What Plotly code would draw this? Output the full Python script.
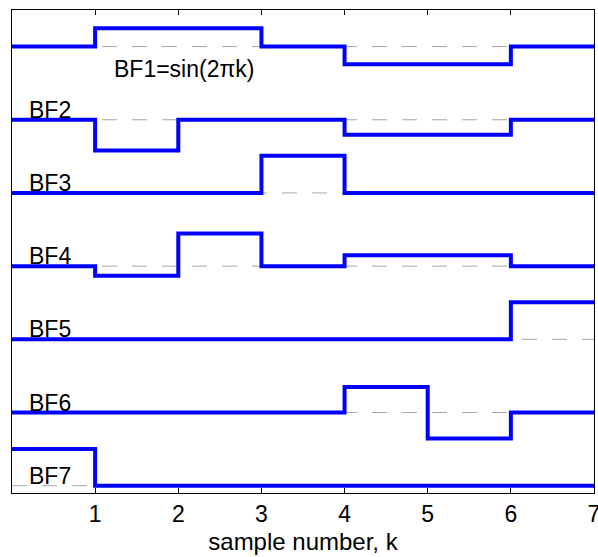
import plotly.graph_objects as go

# sample index k (each sample is held until the next one)
samples = [0, 1, 2, 3, 4, 5, 6]
x_end = 7

# basis-function amplitudes per sample, in units of the row spacing
bf1 = [0.0, 0.25, 0.25, 0.0, -0.24, -0.24, 0.0]
bf2 = [0.0, -0.42, 0.0, 0.0, -0.205, -0.205, 0.0]
bf3 = [0.0, 0.0, 0.0, 0.51, 0.0, 0.0, 0.0]
bf4 = [0.0, -0.13, 0.445, 0.0, 0.15, 0.15, 0.0]
bf5 = [0.0, 0.0, 0.0, 0.0, 0.0, 0.0, 0.505]
bf6 = [0.0, 0.0, 0.0, 0.0, 0.35, -0.355, 0.0]
bf7 = [0.5, 0.0, 0.0, 0.0, 0.0, 0.0, 0.0]

series = [bf1, bf2, bf3, bf4, bf5, bf6, bf7]
labels = ["BF1=sin(2πk)", "BF2", "BF3", "BF4", "BF5", "BF6", "BF7"]
offsets = [6, 5, 4, 3, 2, 1, 0]

tick_vals = [1, 2, 3, 4, 5, 6, 7]
tick_text = ["1", "2", "3", "4", "5", "6", "7"]

FONT = "Liberation Sans, Arial, Helvetica, sans-serif"
BLUE = "#0000ff"
GREY = "#a6a6a6"

fig = go.Figure()

# dashed zero reference for every row
for off in offsets:
    fig.add_trace(go.Scatter(
        x=[samples[0], x_end], y=[off, off], mode="lines",
        line=dict(color=GREY, width=1, dash="15px,15px"),
        hoverinfo="skip", showlegend=False))

# staircase waveforms
for vals, off in zip(series, offsets):
    xs = samples + [x_end]
    ys = [off + v for v in vals] + [off + vals[-1]]
    fig.add_trace(go.Scatter(
        x=xs, y=ys, mode="lines", line=dict(color=BLUE, width=4, shape="hv"),
        showlegend=False))

# row labels
for i, (lab, off) in enumerate(zip(labels, offsets)):
    if i == 0:
        fig.add_annotation(x=1.2, y=off - 0.44, text=lab, showarrow=False,
                           xanchor="left", yanchor="bottom", yshift=-5,
                           font=dict(family=FONT, size=23, color="black"))
    else:
        fig.add_annotation(x=0.18, y=off, text=lab, showarrow=False,
                           xanchor="left", yanchor="bottom", yshift=-5,
                           font=dict(family=FONT, size=23, color="black"))

fig.update_layout(
    width=598, height=557,
    margin=dict(l=12, r=4, t=10, b=64, autoexpand=False),
    plot_bgcolor="white", paper_bgcolor="white",
    font=dict(family=FONT, size=23, color="black"),
    xaxis=dict(range=[0, 7], tickvals=tick_vals, ticktext=tick_text,
               ticks="inside", ticklen=5, tickwidth=1, tickcolor="black",
               ticklabeloverflow="allow", tickfont=dict(size=23),
               automargin=False,
               showline=True, linecolor="black", linewidth=1, mirror="ticks",
               showgrid=False, zeroline=False,
               title=dict(text="sample number, k", standoff=7,
                          font=dict(size=24))),
    yaxis=dict(range=[-0.1, 6.5], showticklabels=False, ticks="",
               automargin=False,
               showline=True, linecolor="black", linewidth=1, mirror=True,
               showgrid=False, zeroline=False),
)

fig.write_html("out.html")
